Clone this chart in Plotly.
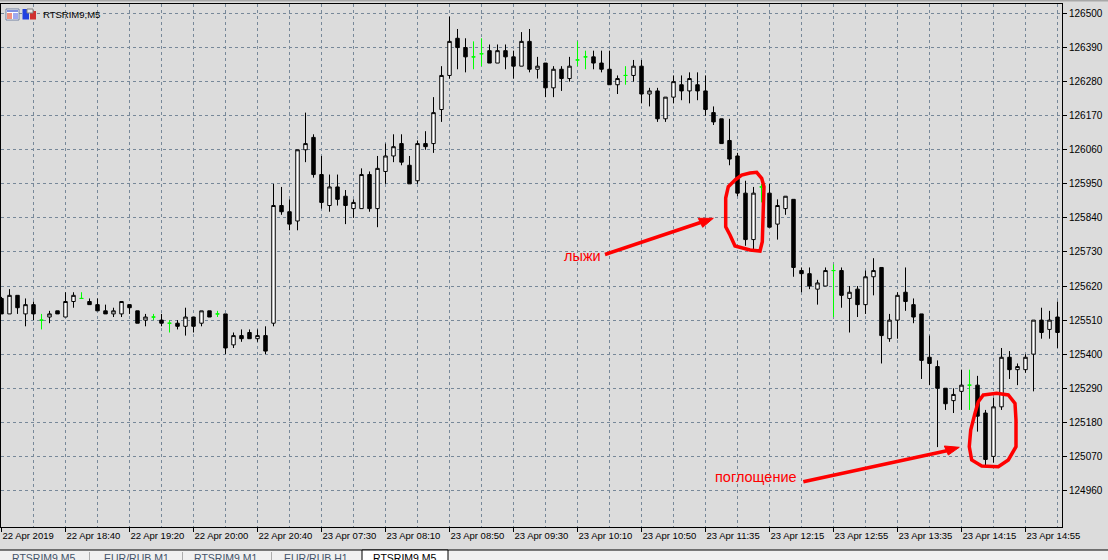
import plotly.graph_objects as go

# Bars of the 5-minute chart, one entry per candle
opens = [125580,125530,125590,125530,125560,125510,125520,125540,125520,125570,125580,125570,125560,125540,125530,125530,125560,125540,125510,125520,125510,125500,125500,125490,125520,125500,125540,125530,125530,125430,125460,125470,125450,125460,
125500,125880,125860,125830,126060,126100,125980,125880,125940,125910,125870,125870,125980,125870,125990,126040,126080,126010,125960,126080,126080,126190,126300,126420,126390,126360,126370,126380,126340,126380,126360,126330,126410,126320,
126340,126260,126320,126290,126350,126360,126360,126340,126320,126270,126300,126300,126330,126240,126250,126160,126230,126270,126250,126270,126250,126180,126160,126090,126040,125920,125770,125940,125920,125820,125870,125900,
125670,125660,125610,125620,125670,125670,125580,125610,125560,125650,125680,125450,125510,125600,125560,125530,125390,125360,125290,125250,125280,125300,125300,125210,125070,125230,125390,125350,125350,125400,125510,125480,125520]
highs = [125585,125610,125590,125580,125570,125530,125540,125540,125600,125600,125600,125580,125580,125560,125550,125570,125560,125540,125530,125530,125530,125510,125510,125550,125520,125540,125540,125540,125530,125470,125480,125480,125480,125490,
125950,125940,125900,126060,126180,126110,126040,125980,125980,125930,125900,126000,125990,126040,126080,126110,126110,126040,126090,126120,126230,126330,126490,126450,126420,126410,126420,126400,126400,126400,126380,126440,126450,126360,
126340,126330,126330,126360,126410,126380,126380,126380,126380,126300,126330,126350,126350,126260,126260,126230,126300,126300,126310,126310,126300,126200,126160,126160,126050,125960,125940,125950,125950,125900,125910,125900,
125680,125680,125640,125680,125690,125680,125620,125620,125670,125710,125680,125530,125600,125680,125580,125530,125460,125380,125290,125290,125350,125350,125330,125220,125260,125420,125410,125370,125400,125510,125550,125540,125570]
lows = [125530,125530,125530,125490,125510,125480,125500,125530,125520,125550,125580,125560,125540,125530,125520,125520,125530,125500,125490,125510,125490,125470,125480,125460,125470,125490,125520,125520,125400,125420,125440,125450,125440,125400,
125490,125850,125800,125800,126020,125970,125870,125860,125880,125820,125840,125870,125860,125810,125950,126020,126010,125950,125950,126060,126050,126150,126290,126320,126310,126320,126330,126340,126340,126320,126290,126330,126310,126290,
126230,126230,126250,126280,126330,126320,126320,126310,126270,126240,126270,126280,126210,126200,126150,126150,126210,126220,126210,126220,126170,126140,126080,126010,125910,125750,125730,125890,125810,125770,125850,125650,
125600,125610,125560,125620,125520,125550,125470,125520,125530,125590,125370,125440,125450,125540,125500,125320,125300,125100,125220,125210,125220,125220,125150,125040,125050,125220,125320,125300,125340,125280,125450,125450,125420]
closes = [125530,125590,125550,125560,125530,125510,125530,125530,125570,125590,125580,125560,125540,125530,125540,125570,125550,125500,125520,125520,125500,125500,125490,125520,125490,125540,125520,125530,125420,125460,125450,125450,125460,125410,
125880,125860,125820,126060,126080,125980,125890,125940,125900,125880,125890,125980,125870,126000,126040,126070,126020,125950,126080,126070,126180,126300,126410,126390,126360,126360,126370,126340,126380,126360,126330,126410,126320,126330,
126260,126320,126290,126330,126350,126360,126340,126320,126270,126290,126300,126330,126240,126250,126160,126230,126280,126250,126290,126250,126190,126150,126080,126030,125920,125770,125920,125940,125810,125880,125910,125680,
125660,125620,125630,125670,125670,125590,125600,125560,125650,125670,125460,125510,125590,125570,125520,125380,125370,125290,125240,125270,125300,125300,125200,125060,125230,125390,125350,125360,125390,125510,125470,125510,125470]

price_ticks = [126500,126390,126280,126170,126060,125950,125840,125730,125620,125510,125400,125290,125180,125070,124960]
time_labels = ["22 Apr 2019","22 Apr 18:40","22 Apr 19:20","22 Apr 20:00","22 Apr 20:40","23 Apr 07:30","23 Apr 08:10","23 Apr 08:50","23 Apr 09:30","23 Apr 10:10","23 Apr 10:50","23 Apr 11:35","23 Apr 12:15","23 Apr 12:55","23 Apr 13:35","23 Apr 14:15","23 Apr 14:55"]
tab_labels = ["RTSRIM9,M5","EUR/RUB,M1","RTSRIM9,M1","EUR/RUB,H1","RTSRIM9,M5"]

W, H = 1108, 560
L, R, T, B = 1, 1062, 4, 527
BG = "#dcdcdc"
GRID = "#778899"
DASH = "3px,3px"
FONT = "Liberation Sans"

def px(x): return (x - L) / (R - L)
def py(y): return 1 - (y - T) / (B - T)

def poly(points, close=True):
    p = "M " + " L ".join(f"{px(x):.5f},{py(y):.5f}" for x, y in points)
    return p + (" Z" if close else "")

def rect(x0, y0, x1, y1, fill, line=None):
    return dict(type="rect", xref="paper", yref="paper", x0=px(x0), x1=px(x1), y0=py(y1), y1=py(y0),
                fillcolor=fill, line=dict(color=line or fill, width=1 if line else 0))

idx = list(range(len(opens)))
body = [i for i in idx if opens[i] != closes[i]]
doji = [i for i in idx if opens[i] == closes[i]]

def pick(arr, which):
    return [arr[i] for i in which]

fig = go.Figure()
fig.add_trace(go.Candlestick(
    x=body, open=pick(opens, body), high=pick(highs, body), low=pick(lows, body), close=pick(closes, body),
    increasing=dict(line=dict(color="black", width=1), fillcolor="white"),
    decreasing=dict(line=dict(color="black", width=1), fillcolor="black"),
    whiskerwidth=0, name="RTSRIM9,M5"))
fig.add_trace(go.Candlestick(
    x=doji, open=pick(opens, doji), high=pick(highs, doji), low=pick(lows, doji), close=pick(closes, doji),
    increasing=dict(line=dict(color="#00ff00", width=1), fillcolor="#00ff00"),
    decreasing=dict(line=dict(color="#00ff00", width=1), fillcolor="#00ff00"),
    whiskerwidth=0, name="doji"))

RED = "#ff0000"
ring1 = [(735,180),(741.7,175),(750,173),(756.7,172.3),(761.7,178.3),(764,186.7),(763.3,208),(762.3,241.7),(760,251),(750,250),(735,246),(730,235),(725.7,226.7),(725.7,198),(728.3,186.7)]
ring2 = [(983.3,395),(996.7,393.3),(1008.3,395),(1015,403.3),(1016,420),(1016,446.7),(1008.3,460),(998.3,466.7),(981.7,466),(971.7,460),(969.3,446.7),(970.7,430),(975,413.3),(978.3,401.7)]

shapes = [
    # window chrome
    rect(0, 0, W, 1.5, "#a8a8a8"),
    rect(0, 550, W, 560, "#f0f0f0", None),
    rect(0, 549.5, W, 550.5, "#000000"),
    rect(362, 550, 448, 562, "#ffffff", "#000000"),
    rect(89, 552, 89.6, 560, "#808080"),
    rect(182, 552, 182.6, 560, "#808080"),
    rect(271, 552, 271.6, 560, "#808080"),
    # chart icons
    rect(6, 9, 19, 20, "#ffffff", "#7080a0"),
    rect(7, 10, 18, 12, "#8090e0"),
    rect(7, 13, 12, 19, "#f09080"),
    rect(13, 13, 18, 19, "#a0a8f0"),
    rect(22.5, 9, 29, 19.5, "#2040e0"),
    rect(30, 11, 36, 19.5, "#d03030"),
    rect(27, 9, 33, 13, "#e8e8e8", "#808080"),
    # hand-drawn rings
    dict(type="path", xref="paper", yref="paper", path=poly(ring1), line=dict(color=RED, width=3.5)),
    dict(type="path", xref="paper", yref="paper", path=poly(ring2), line=dict(color=RED, width=3.5)),
    # hand-drawn arrows
    dict(type="path", xref="paper", yref="paper", path=poly([(605,254.5),(702,222)], False), line=dict(color=RED, width=3.5)),
    dict(type="path", xref="paper", yref="paper", path=poly([(713.3,218.3),(698.3,218.3),(702.7,227.3)]), fillcolor=RED, line=dict(color=RED, width=1)),
    dict(type="path", xref="paper", yref="paper", path=poly([(803.3,481.7),(948,450.5)], False), line=dict(color=RED, width=3.5)),
    dict(type="path", xref="paper", yref="paper", path=poly([(959.3,447.3),(944.3,446),(948.3,455)]), fillcolor=RED, line=dict(color=RED, width=1)),
]

def label(text, x, y, color="black", size=10, anchor="left"):
    return dict(text=text, xref="paper", yref="paper", x=px(x), y=py(y), xanchor=anchor, yanchor="middle",
                showarrow=False, font=dict(family=FONT, size=size, color=color), borderpad=0, borderwidth=0)

tab_x = [44, 136, 226, 316, 405]
annotations = [
    label("RTSRIM9,M5", 42.5, 14.5, size=9.5),
    label("лыжи", 564, 256, RED, 14.5),
    label("поглощение", 715, 477, RED, 14.5),
]
for i, (text, x) in enumerate(zip(tab_labels, tab_x)):
    annotations.append(label(text, x, 557.5, "black" if i == 4 else "#44546a", 10.5, "center"))

x_major = list(range(0, len(opens), 8))
x_minor = list(range(4, len(opens), 8))

fig.update_layout(
    width=W, height=H, autosize=False,
    margin=dict(l=L, r=W - R, t=T, b=H - B, pad=0, autoexpand=False),
    paper_bgcolor=BG, plot_bgcolor=BG,
    showlegend=False, boxmode="overlay", boxgap=0.38,
    font=dict(family=FONT, size=10, color="black"),
    shapes=shapes, annotations=annotations,
    xaxis=dict(
        range=[-0.0625, 132.5625], rangeslider=dict(visible=False),
        tickmode="array", tickvals=x_major, ticktext=time_labels, tickangle=0,
        ticks="outside", ticklen=4, tickcolor="black", tickwidth=1,
        ticklabelposition="outside right",
        showgrid=True, gridcolor=GRID, griddash=DASH, gridwidth=1,
        minor=dict(tickmode="array", tickvals=x_minor, showgrid=True, gridcolor=GRID, griddash=DASH, gridwidth=1, ticks=""),
        showline=True, linecolor="black", linewidth=1, mirror=True, zeroline=False,
        tickfont=dict(family=FONT, size=9.5, color="black"),
    ),
    yaxis=dict(
        side="right", range=[124842, 126530.7],
        tickmode="array", tickvals=price_ticks, ticktext=[str(v) for v in price_ticks],
        ticks="outside", ticklen=4, tickcolor="black", tickwidth=1,
        showgrid=True, gridcolor=GRID, griddash=DASH, gridwidth=1,
        showline=True, linecolor="black", linewidth=1, mirror=True, zeroline=False,
        tickfont=dict(family=FONT, size=10, color="black"),
    ),
)

fig.write_html("out.html", config=dict(displayModeBar=False),
               post_script="document.body.style.margin='0';document.body.style.background='#dcdcdc';")
